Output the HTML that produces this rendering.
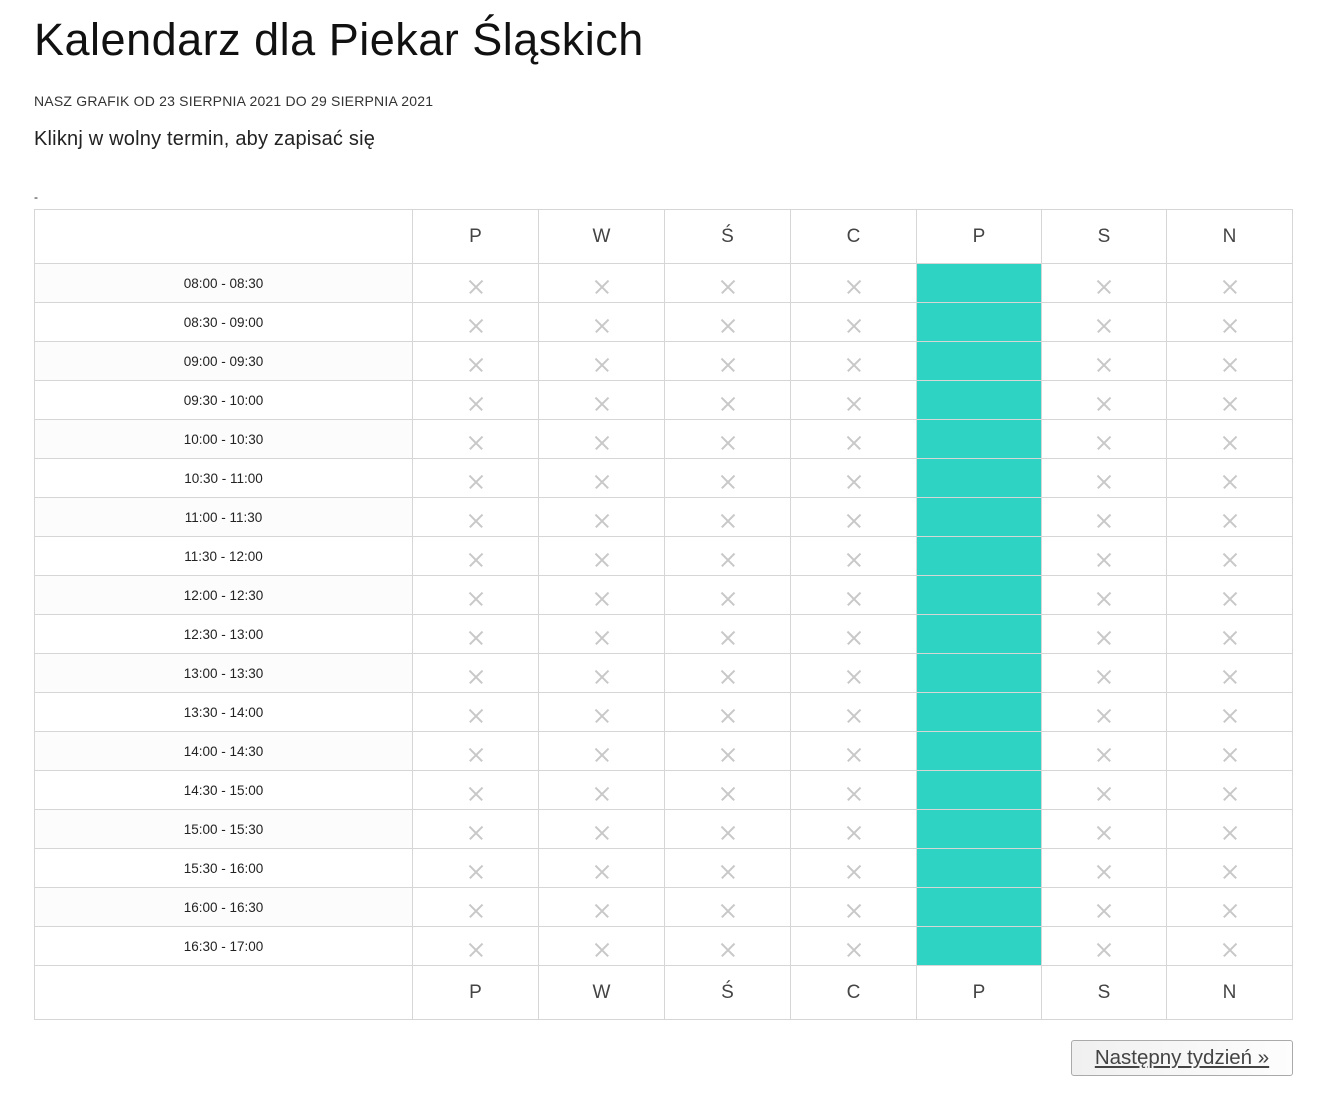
<!DOCTYPE html>
<html><head><meta charset="utf-8"><style>
body{margin:0;background:#fff;font-family:"Liberation Sans",sans-serif;color:#222;width:1335px;height:1108px;position:relative;overflow:hidden}
h1{position:absolute;left:34px;top:14px;margin:0;font-weight:normal;font-size:45px;color:#111;letter-spacing:0.5px}
.sub{position:absolute;left:34px;top:93px;font-size:14px;color:#333;letter-spacing:0.2px}
.info{position:absolute;left:34px;top:128px;font-size:20px;color:#222;letter-spacing:0.2px}
.dash{position:absolute;left:34px;top:190px;font-size:12px}
table{position:absolute;left:34px;top:209px;border-collapse:collapse;table-layout:fixed}
td{border:1px solid #d6d6d6;padding:0;text-align:center;position:relative}
tr.h td{height:53px;font-size:19px;color:#444}
tr.r td{height:38px}
tr.r td:first-child{font-size:13.5px;color:#222}
tr.r:nth-child(even) td:first-child{background:#fcfcfc}
td.g{background:#2ed3c3}
td.x::before,td.x::after{content:"";position:absolute;left:50%;top:22px;width:18px;height:1.5px;background:#c8c8c8;margin-left:-9px}
td.x::before{transform:rotate(45deg)}
td.x::after{transform:rotate(-45deg)}
.btn{position:absolute;left:1071px;top:1040px;width:220px;height:34px;border:1px solid #aaa;border-radius:3px;background:linear-gradient(90deg,#f0f0f0,#fdfdfd);font-size:20.5px;color:#444;text-decoration:underline;text-align:center;line-height:34px}
</style></head><body>
<h1>Kalendarz dla Piekar Śląskich</h1>
<div class="sub">NASZ GRAFIK OD 23 SIERPNIA 2021 DO 29 SIERPNIA 2021</div>
<div class="info">Kliknj w wolny termin, aby zapisać się</div>
<div class="dash">-</div>
<table>
<colgroup><col style="width:378px"><col style="width:126px"><col style="width:126px"><col style="width:126px"><col style="width:126px"><col style="width:125px"><col style="width:125px"><col style="width:126px"></colgroup>
<tr class="h"><td></td><td>P</td><td>W</td><td>Ś</td><td>C</td><td>P</td><td>S</td><td>N</td></tr>
<tr class="r"><td>08:00 - 08:30</td><td class="x"></td><td class="x"></td><td class="x"></td><td class="x"></td><td class="g"></td><td class="x"></td><td class="x"></td></tr>
<tr class="r"><td>08:30 - 09:00</td><td class="x"></td><td class="x"></td><td class="x"></td><td class="x"></td><td class="g"></td><td class="x"></td><td class="x"></td></tr>
<tr class="r"><td>09:00 - 09:30</td><td class="x"></td><td class="x"></td><td class="x"></td><td class="x"></td><td class="g"></td><td class="x"></td><td class="x"></td></tr>
<tr class="r"><td>09:30 - 10:00</td><td class="x"></td><td class="x"></td><td class="x"></td><td class="x"></td><td class="g"></td><td class="x"></td><td class="x"></td></tr>
<tr class="r"><td>10:00 - 10:30</td><td class="x"></td><td class="x"></td><td class="x"></td><td class="x"></td><td class="g"></td><td class="x"></td><td class="x"></td></tr>
<tr class="r"><td>10:30 - 11:00</td><td class="x"></td><td class="x"></td><td class="x"></td><td class="x"></td><td class="g"></td><td class="x"></td><td class="x"></td></tr>
<tr class="r"><td>11:00 - 11:30</td><td class="x"></td><td class="x"></td><td class="x"></td><td class="x"></td><td class="g"></td><td class="x"></td><td class="x"></td></tr>
<tr class="r"><td>11:30 - 12:00</td><td class="x"></td><td class="x"></td><td class="x"></td><td class="x"></td><td class="g"></td><td class="x"></td><td class="x"></td></tr>
<tr class="r"><td>12:00 - 12:30</td><td class="x"></td><td class="x"></td><td class="x"></td><td class="x"></td><td class="g"></td><td class="x"></td><td class="x"></td></tr>
<tr class="r"><td>12:30 - 13:00</td><td class="x"></td><td class="x"></td><td class="x"></td><td class="x"></td><td class="g"></td><td class="x"></td><td class="x"></td></tr>
<tr class="r"><td>13:00 - 13:30</td><td class="x"></td><td class="x"></td><td class="x"></td><td class="x"></td><td class="g"></td><td class="x"></td><td class="x"></td></tr>
<tr class="r"><td>13:30 - 14:00</td><td class="x"></td><td class="x"></td><td class="x"></td><td class="x"></td><td class="g"></td><td class="x"></td><td class="x"></td></tr>
<tr class="r"><td>14:00 - 14:30</td><td class="x"></td><td class="x"></td><td class="x"></td><td class="x"></td><td class="g"></td><td class="x"></td><td class="x"></td></tr>
<tr class="r"><td>14:30 - 15:00</td><td class="x"></td><td class="x"></td><td class="x"></td><td class="x"></td><td class="g"></td><td class="x"></td><td class="x"></td></tr>
<tr class="r"><td>15:00 - 15:30</td><td class="x"></td><td class="x"></td><td class="x"></td><td class="x"></td><td class="g"></td><td class="x"></td><td class="x"></td></tr>
<tr class="r"><td>15:30 - 16:00</td><td class="x"></td><td class="x"></td><td class="x"></td><td class="x"></td><td class="g"></td><td class="x"></td><td class="x"></td></tr>
<tr class="r"><td>16:00 - 16:30</td><td class="x"></td><td class="x"></td><td class="x"></td><td class="x"></td><td class="g"></td><td class="x"></td><td class="x"></td></tr>
<tr class="r"><td>16:30 - 17:00</td><td class="x"></td><td class="x"></td><td class="x"></td><td class="x"></td><td class="g"></td><td class="x"></td><td class="x"></td></tr>
<tr class="h"><td></td><td>P</td><td>W</td><td>Ś</td><td>C</td><td>P</td><td>S</td><td>N</td></tr>
</table>
<div class="btn">Następny tydzień »</div>
</body></html>
